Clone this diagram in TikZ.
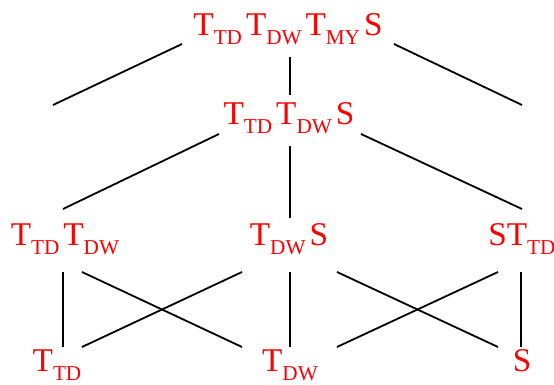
\documentclass[tikz,border=0pt]{standalone}
\usepackage{fontspec}
\setmainfont{Liberation Serif}
\newcommand\sbs[1]{\raisebox{-4.2pt}{\fontsize{10.6}{12}\selectfont #1}}
\newcommand\gp{\hspace{2pt}}
\begin{document}
\begin{tikzpicture}[x=0.5pt,y=-0.5pt,
  lbl/.style={text=red,font=\fontsize{16.6}{20}\selectfont,inner sep=0pt,anchor=base},
  edge/.style={line width=0.9pt,black}]
\useasboundingbox (0,0) rectangle (554,385);
% nodes
\node[lbl] (top) at (288,36) {T\sbs{TD}\gp T\sbs{DW}\gp T\sbs{MY}\gp S};
\node[lbl] (mid) at (289,125) {T\sbs{TD}\gp T\sbs{DW}\gp S};
\node[lbl] (rl) at (65,246) {T\sbs{TD}\gp T\sbs{DW}};
\node[lbl] (rm) at (289,246) {T\sbs{DW}\gp S};
\node[lbl] (rr) at (522,246) {ST\sbs{TD}};
\node[lbl] (bl) at (57,372) {T\sbs{TD}};
\node[lbl] (bm) at (290,372) {T\sbs{DW}};
\node[lbl] (br) at (522,372) {S};
\coordinate (fl) at (53,105);
\coordinate (fr) at (522,105);
% edges
\draw[edge] ([shift={(-106,8)}]top.base) -- (fl);
\draw[edge] ([shift={(106,8)}]top.base) -- (fr);
\draw[edge] ([shift={(2,21)}]top.base) -- ([shift={(1,-30)}]mid.base);
\draw[edge] ([shift={(-70,9)}]mid.base) -- ([shift={(-2,-37)}]rl.base);
\draw[edge] ([shift={(1,21)}]mid.base) -- ([shift={(1,-28)}]rm.base);
\draw[edge] ([shift={(72,9)}]mid.base) -- ([shift={(0,-37)}]rr.base);
\draw[edge] ([shift={(-2,26)}]rl.base) -- ([shift={(6,-25)}]bl.base);
\draw[edge] ([shift={(17,26)}]rl.base) -- ([shift={(-48,-25)}]bm.base);
\draw[edge] ([shift={(-47,26)}]rm.base) -- ([shift={(25,-25)}]bl.base);
\draw[edge] ([shift={(1,26)}]rm.base) -- ([shift={(0,-25)}]bm.base);
\draw[edge] ([shift={(48,26)}]rm.base) -- ([shift={(-24,-25)}]br.base);
\draw[edge] ([shift={(-24,26)}]rr.base) -- ([shift={(47,-25)}]bm.base);
\draw[edge] ([shift={(-1,26)}]rr.base) -- ([shift={(-1,-25)}]br.base);
\end{tikzpicture}
\end{document}
